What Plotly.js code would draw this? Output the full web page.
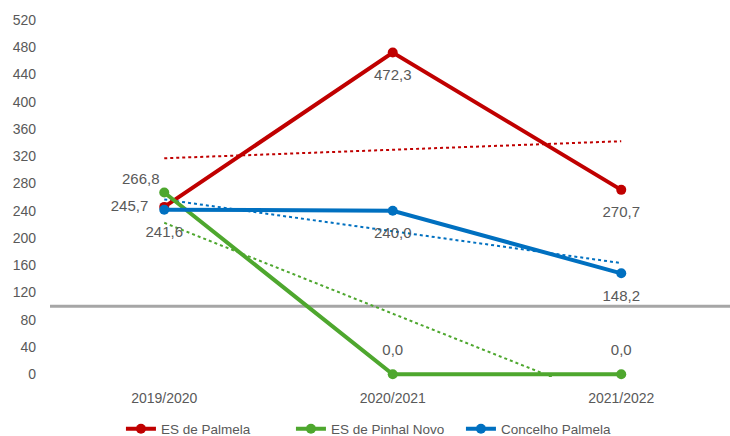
<!DOCTYPE html>
<html>
<head>
<meta charset="utf-8">
<script src="https://cdn.plot.ly/plotly-3.0.1.min.js"></script>
<style>html,body{margin:0;padding:0;background:#fff}#chart{width:730px;height:436px}</style>
</head>
<body>
<div id="chart"></div>
<script>
const categories = ["2019/2020", "2020/2021", "2021/2022"];
const palmela = [245.7, 472.3, 270.7];
const pinhalNovo = [266.8, 0.0, 0.0];
const concelho = [241.6, 240.0, 148.2];
const seriesNames = ["ES de Palmela", "ES de Pinhal Novo", "Concelho Palmela"];
const yTicks = [0, 40, 80, 120, 160, 200, 240, 280, 320, 360, 400, 440, 480, 520];
const referenceLevel = 100;

const xIdx = categories.map((_, i) => i);
const fmt = v => v.toFixed(1).replace('.', ',');

function trend(vals) {
  const n = vals.length;
  const mx = xIdx.reduce((a, b) => a + b, 0) / n;
  const my = vals.reduce((a, b) => a + b, 0) / n;
  let sxy = 0, sxx = 0;
  for (let i = 0; i < n; i++) { sxy += (xIdx[i] - mx) * (vals[i] - my); sxx += (xIdx[i] - mx) ** 2; }
  const b = sxy / sxx, a = my - b * mx;
  return xIdx.map(x => a + b * x);
}

const FONT = "Liberation Sans, Arial, sans-serif";
const colors = ["#C00000", "#4EA72E", "#0070C0"];
const data = [palmela, pinhalNovo, concelho];
const positions = [
  ["middle left", "bottom center", "bottom center"],
  ["top left", "top center", "top center"],
  ["bottom center", "bottom center", "bottom center"]
];
const labelGap = [
  [24, 24, 24],
  [6, 24, 24],
  [24, 24, 24]
];

const traces = [];
data.forEach((vals, k) => {
  traces.push({
    x: xIdx, y: trend(vals), mode: "lines", showlegend: false, hoverinfo: "skip",
    line: {color: colors[k], width: 2, dash: "dot"}
  });
});
data.forEach((vals, k) => {
  traces.push({
    x: xIdx, y: vals, name: seriesNames[k], mode: "lines+markers",
    line: {color: colors[k], width: 4}, marker: {color: colors[k], size: 10, line: {width: 0}},
    cliponaxis: false
  });
});
// data labels (transparent markers set the label offset)
data.forEach((vals, k) => {
  traces.push({
    x: xIdx, y: vals, mode: "markers+text", showlegend: false, hoverinfo: "skip",
    text: vals.map(fmt), textposition: positions[k],
    textfont: {family: FONT, size: 15, color: "#595959"},
    marker: {color: "rgba(0,0,0,0)", size: labelGap[k], line: {width: 0, color: "rgba(0,0,0,0)"}},
    cliponaxis: false
  });
});

const layout = {
  width: 730, height: 436,
  margin: {l: 50, r: 0, t: 20, b: 59.3, autoexpand: false},
  paper_bgcolor: "#fff", plot_bgcolor: "#fff",
  font: {family: FONT, size: 14, color: "#595959"},
  xaxis: {
    range: [-0.5, 2.476], tickvals: xIdx, ticktext: categories,
    showgrid: false, zeroline: false, showline: false, ticks: "",
    tickfont: {size: 14, color: "#595959"}, ticklabelstandoff: 11, automargin: false
  },
  yaxis: {
    range: [-4, 520], tickvals: yTicks, showgrid: false, zeroline: false,
    showline: false, ticks: "", tickfont: {size: 14, color: "#595959"},
    ticklabelstandoff: 13, automargin: false
  },
  shapes: [{type: "line", xref: "paper", x0: 0, x1: 1, yref: "y", y0: referenceLevel, y1: referenceLevel,
    line: {color: "#A6A6A6", width: 3}, layer: "below"}],
  showlegend: true,
  legend: {orientation: "h", x: 0.515, xanchor: "center", xref: "container",
    y: 0.016, yanchor: "middle", yref: "container",
    font: {size: 13.5, color: "#595959"}, itemwidth: 30,
    entrywidth: 125, entrywidthmode: "pixels"}
};

Plotly.newPlot("chart", traces, layout, {displayModeBar: false, staticPlot: true});
</script>
</body>
</html>
